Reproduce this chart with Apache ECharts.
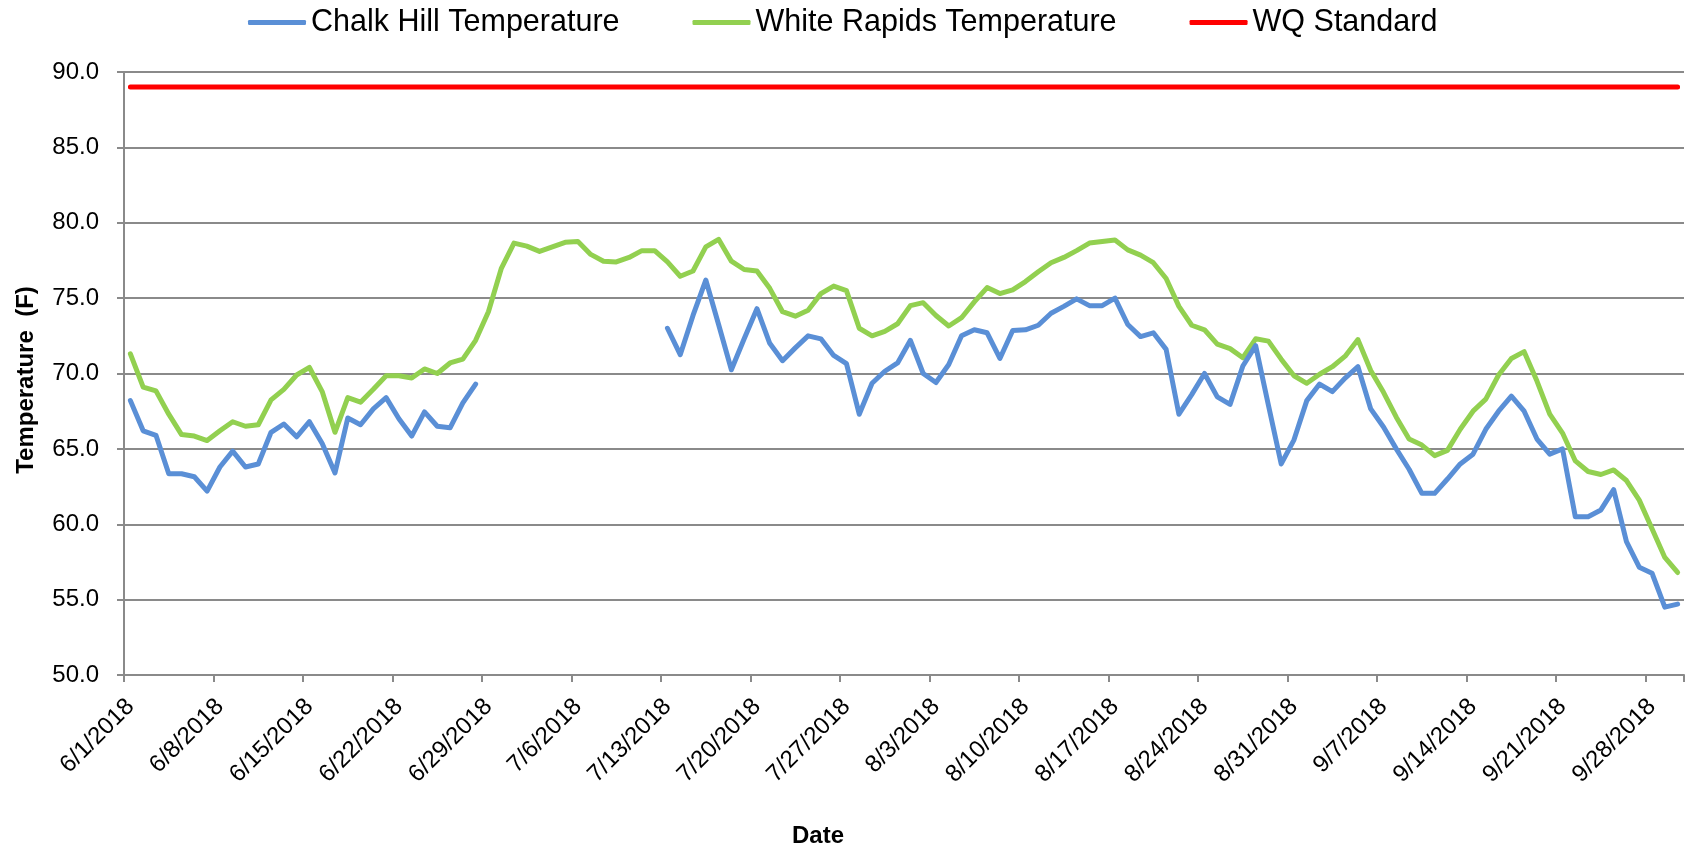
<!DOCTYPE html>
<html>
<head>
<meta charset="utf-8">
<script src="https://cdn.jsdelivr.net/npm/echarts@6/dist/echarts.min.js"></script>
<style>
html,body{margin:0;padding:0;background:#fff;}
#chart{width:1690px;height:851px;}
</style>
</head>
<body>
<div id="chart"></div>
<script>
// ---- categories: daily dates 6/1/2018 .. 9/30/2018 ----
const monthDays = [[6, 30], [7, 31], [8, 31], [9, 30]];
const categories = [];
monthDays.forEach(([m, n]) => { for (let d = 1; d <= n; d++) categories.push(m + '/' + d + '/2018'); });

// ---- series values (deg F) ----
const chalkHill = [
  68.2, 66.2, 65.9, 63.35, 63.35, 63.15, 62.2, 63.8, 64.85, 63.8,
  64.0, 66.1, 66.65, 65.8, 66.8, 65.35, 63.4, 67.05, 66.6, 67.65,
  68.4, 67.0, 65.85, 67.45, 66.5, 66.4, 68.05, 69.3, null, null,
  null, null, null, null, null, null, null, null, null, null,
  null, null, 73.0, 71.25, 73.85, 76.2, 73.25, 70.25, 72.3, 74.3,
  72.0, 70.85, 71.7, 72.5, 72.3, 71.2, 70.65, 67.3, 69.35, 70.15,
  70.7, 72.2, 70.0, 69.4, 70.6, 72.5, 72.9, 72.7, 71.0, 72.85,
  72.9, 73.2, 74.0, 74.45, 74.95, 74.5, 74.5, 75.0, 73.25, 72.45,
  72.7, 71.6, 67.3, 68.6, 70.0, 68.45, 67.95, 70.5, 71.85, 67.9,
  64.0, 65.6, 68.2, 69.3, 68.8, 69.7, 70.45, 67.65, 66.45, 65.0,
  63.65, 62.05, 62.05, 63.0, 64.0, 64.65, 66.3, 67.5, 68.5, 67.5,
  65.65, 64.65, 65.0, 60.5, 60.5, 60.95, 62.3, 58.85, 57.15, 56.75,
  54.5, 54.7
];
const whiteRapids = [
  71.3, 69.1, 68.85, 67.3, 65.95, 65.85, 65.55, 66.2, 66.8, 66.5,
  66.6, 68.25, 68.95, 69.9, 70.4, 68.8, 66.1, 68.4, 68.1, 68.95,
  69.85, 69.85, 69.7, 70.3, 70.0, 70.7, 70.95, 72.2, 74.1, 76.95,
  78.65, 78.45, 78.1, 78.4, 78.7, 78.75, 77.9, 77.45, 77.4, 77.7,
  78.15, 78.15, 77.4, 76.45, 76.8, 78.4, 78.9, 77.45, 76.9, 76.8,
  75.65, 74.1, 73.8, 74.2, 75.3, 75.8, 75.5, 73.0, 72.5, 72.8,
  73.3, 74.5, 74.7, 73.85, 73.15, 73.7, 74.75, 75.7, 75.3, 75.55,
  76.1, 76.75, 77.35, 77.7, 78.15, 78.65, 78.75, 78.85, 78.2, 77.85,
  77.35, 76.3, 74.45, 73.2, 72.9, 71.95, 71.65, 71.05, 72.3, 72.15,
  70.95, 69.85, 69.35, 69.95, 70.45, 71.15, 72.25, 70.2, 68.75, 67.1,
  65.65, 65.25, 64.55, 64.9, 66.3, 67.5, 68.3, 69.9, 71.0, 71.45,
  69.5, 67.3, 66.05, 64.2, 63.5, 63.3, 63.6, 62.9, 61.6, 59.7,
  57.8, 56.8
];
const wqStandardValue = 89;
const wqStandard = categories.map(() => wqStandardValue);

const seriesNames = ['Chalk Hill Temperature', 'White Rapids Temperature', 'WQ Standard'];
const yTicks = { min: 50, max: 90, interval: 5 };
const xTitle = 'Date';
const yTitle = 'Temperature  (F)';

const FONT = 'Liberation Sans';
const chart = echarts.init(document.getElementById('chart'));
chart.setOption({
  animation: false,
  backgroundColor: '#fff',
  textStyle: { fontFamily: FONT },
  legend: {
    left: 243, top: 2,
    icon: 'roundRect',
    itemWidth: 58, itemHeight: 5, itemGap: 73,
    textStyle: { fontFamily: FONT, fontSize: 30.5, color: '#000' },
    data: seriesNames
  },
  grid: { left: 124, right: 6, top: 72, bottom: 176, containLabel: false },
  xAxis: {
    type: 'category',
    data: categories,
    boundaryGap: true,
    axisLine: { lineStyle: { color: '#8a8a8a', width: 2 } },
    axisTick: { show: true, interval: 6, length: 7, lineStyle: { color: '#8a8a8a', width: 2 } },
    axisLabel: { interval: 6, rotate: 45, margin: 28, fontFamily: FONT, fontSize: 24, color: '#000' },
    splitLine: { show: false }
  },
  yAxis: {
    type: 'value',
    min: yTicks.min, max: yTicks.max, interval: yTicks.interval,
    axisLine: { show: true, lineStyle: { color: '#8a8a8a', width: 2 } },
    axisTick: { show: true, length: 7, lineStyle: { color: '#8a8a8a', width: 2 } },
    axisLabel: { margin: 25, fontFamily: FONT, fontSize: 24, color: '#000', formatter: v => v.toFixed(1) },
    splitLine: { show: true, lineStyle: { color: '#8a8a8a', width: 2 } }
  },
  graphic: [
    { type: 'text', x: 818, y: 836,
      style: { text: xTitle, font: 'bold 24px "' + FONT + '"', fill: '#000', textAlign: 'center', textVerticalAlign: 'middle' } },
    { type: 'text', x: 26, y: 380, rotation: Math.PI / 2,
      style: { text: yTitle, font: 'bold 24px "' + FONT + '"', fill: '#000', textAlign: 'center', textVerticalAlign: 'middle' } }
  ],
  series: [
    { name: seriesNames[0], type: 'line', data: chalkHill, symbol: 'none', connectNulls: false,
      lineStyle: { color: '#5a8fd6', width: 5, cap: 'round', join: 'round' }, itemStyle: { color: '#5a8fd6' }, z: 3 },
    { name: seriesNames[1], type: 'line', data: whiteRapids, symbol: 'none',
      lineStyle: { color: '#92d050', width: 5, cap: 'round', join: 'round' }, itemStyle: { color: '#92d050' }, z: 2 },
    { name: seriesNames[2], type: 'line', data: wqStandard, symbol: 'none',
      lineStyle: { color: '#ff0000', width: 5, cap: 'round' }, itemStyle: { color: '#ff0000' }, z: 4 }
  ]
});
</script>
</body>
</html>
